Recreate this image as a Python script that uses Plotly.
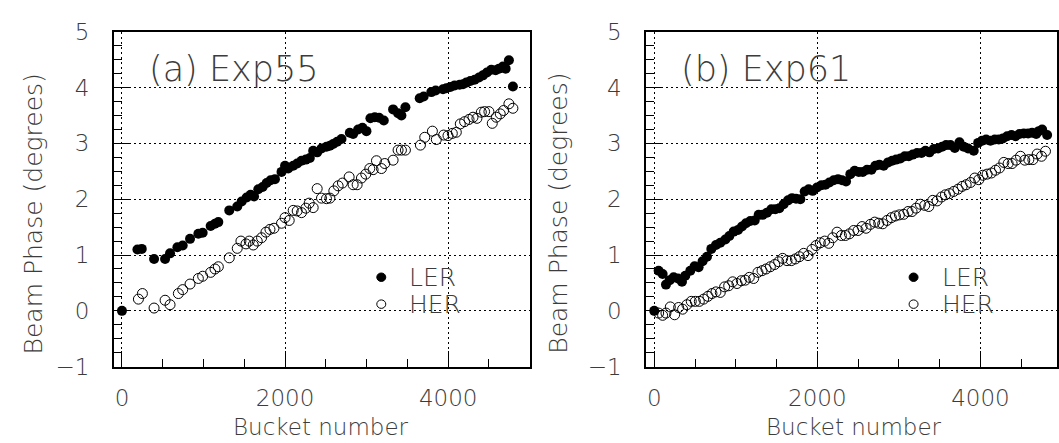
import plotly.graph_objects as go

# ---- Exp55 -------------------------------------------------------------
exp55_ler_bucket = [0, 190, 243, 394, 529, 590, 680, 745, 835, 937, 990, 1088, 1141, 1182,
                    1316, 1414, 1468, 1529, 1578, 1620, 1672, 1725, 1774, 1823, 1876,
                    1957, 2000, 2039, 2100, 2149, 2202, 2255, 2304, 2345, 2394, 2447, 2508,
                    2550, 2590, 2639, 2692, 2794, 2835, 2896, 2949, 2998, 3047, 3100, 3153,
                    3211, 3325, 3386, 3427, 3476, 3651, 3700, 3794, 3847, 3937, 3978, 4027,
                    4080, 4141, 4182, 4223, 4272, 4325, 4378, 4427, 4476, 4529, 4582, 4623,
                    4672, 4705, 4745, 4794]
exp55_ler_phase = [0.00, 1.10, 1.11, 0.93, 0.93, 1.03, 1.14, 1.17, 1.29, 1.38, 1.40, 1.52, 1.56, 1.59,
                   1.80, 1.87, 1.96, 2.03, 2.08, 2.05, 2.18, 2.22, 2.29, 2.34, 2.36,
                   2.49, 2.60, 2.55, 2.60, 2.64, 2.69, 2.71, 2.74, 2.87, 2.84, 2.91, 2.94,
                   2.96, 2.99, 3.03, 3.08, 3.19, 3.17, 3.25, 3.28, 3.22, 3.45, 3.47, 3.46,
                   3.41, 3.61, 3.54, 3.50, 3.65, 3.81, 3.84, 3.92, 3.95, 3.97, 3.99, 4.01,
                   4.04, 4.05, 4.06, 4.09, 4.12, 4.14, 4.18, 4.22, 4.27, 4.32, 4.31, 4.34,
                   4.38, 4.34, 4.49, 4.02]

exp55_her_bucket = [202, 251, 394, 529, 590, 692, 745, 835, 937, 990, 1088, 1141, 1182,
                    1316, 1414, 1459, 1521, 1561, 1610, 1659, 1712, 1766, 1815, 1864,
                    1957, 2000, 2051, 2100, 2149, 2202, 2255, 2296, 2345, 2394, 2447, 2508,
                    2550, 2598, 2651, 2704, 2786, 2835, 2884, 2937, 2990, 3039, 3080, 3121,
                    3182, 3223, 3325, 3386, 3427, 3476, 3660, 3713, 3807, 3855, 3945, 3998,
                    4051, 4100, 4149, 4202, 4256, 4305, 4353, 4407, 4447, 4500, 4541, 4590,
                    4639, 4680, 4745, 4794]
exp55_her_phase = [0.21, 0.31, 0.05, 0.19, 0.11, 0.31, 0.38, 0.48, 0.58, 0.62, 0.69, 0.75, 0.79,
                   0.95, 1.12, 1.25, 1.20, 1.25, 1.18, 1.25, 1.31, 1.41, 1.46, 1.48,
                   1.57, 1.67, 1.62, 1.80, 1.79, 1.76, 1.84, 1.93, 1.85, 2.19, 2.02, 2.01,
                   2.02, 2.15, 2.24, 2.29, 2.40, 2.26, 2.26, 2.38, 2.45, 2.55, 2.53, 2.69,
                   2.55, 2.64, 2.70, 2.88, 2.88, 2.88, 2.97, 3.11, 3.22, 3.07, 3.15, 3.14,
                   3.18, 3.20, 3.35, 3.39, 3.43, 3.47, 3.45, 3.56, 3.57, 3.57, 3.36, 3.47,
                   3.53, 3.59, 3.71, 3.63]

# ---- Exp61 -------------------------------------------------------------
exp61_ler_bucket = [0, 54, 103, 144, 190, 238, 291, 340, 381, 442, 495, 544, 593, 647, 700, 757,
                    810, 872, 921, 974, 1027, 1076, 1125, 1178, 1232, 1281, 1330, 1383, 1436,
                    1485, 1534, 1587, 1641, 1690, 1739, 1792, 1845, 1894, 1943, 1996, 2050,
                    2099, 2148, 2201, 2254, 2303, 2352, 2405, 2458, 2508, 2557, 2610, 2663,
                    2712, 2761, 2814, 2868, 2917, 2966, 3019, 3072, 3121, 3170, 3223, 3277,
                    3326, 3375, 3428, 3481, 3530, 3579, 3632, 3686, 3743, 3796, 3849, 3918,
                    3972, 4021, 4070, 4123, 4176, 4225, 4275, 4328, 4381, 4430, 4479, 4532,
                    4585, 4634, 4684, 4716, 4757, 4818]
exp61_ler_phase = [0.00, 0.72, 0.66, 0.47, 0.55, 0.60, 0.58, 0.52, 0.63, 0.72, 0.80, 0.78, 0.89, 0.97, 1.11, 1.18,
                   1.22, 1.28, 1.34, 1.42, 1.45, 1.51, 1.57, 1.61, 1.62, 1.72, 1.72, 1.76, 1.82,
                   1.82, 1.84, 1.91, 1.98, 2.02, 2.01, 2.00, 2.14, 2.18, 2.15, 2.21, 2.25,
                   2.26, 2.30, 2.34, 2.36, 2.34, 2.32, 2.45, 2.51, 2.49, 2.49, 2.53, 2.53,
                   2.60, 2.62, 2.60, 2.66, 2.69, 2.71, 2.73, 2.77, 2.77, 2.80, 2.83, 2.83,
                   2.87, 2.84, 2.90, 2.91, 2.94, 2.97, 2.97, 2.92, 3.02, 2.94, 2.91, 2.87,
                   3.01, 3.05, 3.07, 3.05, 3.07, 3.07, 3.09, 3.13, 3.15, 3.13, 3.17, 3.18,
                   3.18, 3.19, 3.17, 3.22, 3.25, 3.15]

exp61_her_bucket = [54, 103, 144, 197, 250, 299, 348, 401, 454, 504, 553, 606, 659, 708, 757, 810,
                    863, 913, 962, 1015, 1068, 1117, 1166, 1219, 1272, 1322, 1371, 1424, 1477,
                    1526, 1575, 1628, 1681, 1731, 1780, 1833, 1886, 1935, 1984, 2037, 2090,
                    2140, 2189, 2242, 2295, 2344, 2393, 2446, 2499, 2549, 2598, 2651, 2704,
                    2753, 2802, 2855, 2908, 2958, 3007, 3060, 3113, 3162, 3211, 3264, 3317,
                    3367, 3416, 3469, 3522, 3571, 3620, 3673, 3726, 3776, 3825, 3878, 3931,
                    3980, 4029, 4082, 4135, 4185, 4234, 4287, 4340, 4389, 4438, 4491, 4544,
                    4594, 4643, 4696, 4749, 4798]
exp61_her_phase = [-0.04, -0.08, -0.04, 0.07, -0.07, 0.06, 0.03, 0.11, 0.17, 0.17, 0.17, 0.21, 0.26, 0.31, 0.34, 0.33,
                   0.43, 0.45, 0.52, 0.49, 0.54, 0.55, 0.60, 0.58, 0.69, 0.72, 0.75, 0.79, 0.83,
                   0.88, 0.94, 0.90, 0.90, 0.93, 0.97, 1.03, 0.99, 1.10, 1.17, 1.22, 1.25,
                   1.21, 1.31, 1.41, 1.35, 1.35, 1.38, 1.44, 1.44, 1.51, 1.48, 1.55, 1.59,
                   1.57, 1.56, 1.62, 1.67, 1.70, 1.72, 1.73, 1.78, 1.78, 1.84, 1.91, 1.89,
                   1.87, 1.98, 1.97, 2.04, 2.08, 2.10, 2.14, 2.18, 2.23, 2.26, 2.30, 2.38,
                   2.35, 2.43, 2.45, 2.47, 2.52, 2.56, 2.66, 2.64, 2.64, 2.70, 2.77, 2.70,
                   2.71, 2.71, 2.81, 2.77, 2.86]

panel_labels = ["(a) Exp55", "(b) Exp61"]
series_names = ["LER", "HER"]
x_title = "Bucket number"
y_title = "Beam Phase (degrees)"

W, H = 1059, 443
FONT = "DejaVu Sans"
TXT = "#3c3c3c"
WEIGHT = 200

# panel geometry in pixels
left_px = [114.0, 647.3]
right_px = [530.7, 1059.0]
top_px, bot_px = 20.0, 375.7
px_per_unit = 0.0817
x_ranges = [[-100, 5000], [-100, -100 + (right_px[1] - left_px[1]) / px_per_unit]]
y_title_offset = [80, 88]

fig = go.Figure()

panels = [
    (exp55_ler_bucket, exp55_ler_phase, exp55_her_bucket, exp55_her_phase),
    (exp61_ler_bucket, exp61_ler_phase, exp61_her_bucket, exp61_her_phase),
]

for i, (lx, ly, hx, hy) in enumerate(panels):
    xa = "x" if i == 0 else "x2"
    ya = "y" if i == 0 else "y2"
    fig.add_trace(go.Scatter(
        x=hx, y=hy, mode="markers", xaxis=xa, yaxis=ya, showlegend=False,
        marker=dict(symbol="circle-open", size=10, color="black", line=dict(width=1, color="black")),
        name=series_names[1]))
    fig.add_trace(go.Scatter(
        x=lx, y=ly, mode="markers", xaxis=xa, yaxis=ya, showlegend=False,
        marker=dict(symbol="circle", size=10, color="black"),
        name=series_names[0]))

axis_common = dict(
    showline=True, linecolor="black", linewidth=1.5, mirror=True,
    ticks="inside", tickcolor="black", tickwidth=1,
    showgrid=True, gridcolor="black", gridwidth=1, griddash="2px,3px",
    zeroline=False, tickfont=dict(family=FONT, size=23, color=TXT, weight=WEIGHT),
)

for i in range(2):
    sfx = "" if i == 0 else "2"
    dom_x = [left_px[i] / W, right_px[i] / W]
    dom_y = [1 - bot_px / H, 1 - top_px / H]
    fig.update_layout(**{
        f"xaxis{sfx}": dict(axis_common, domain=dom_x, range=x_ranges[i], anchor=f"y{sfx}",
                            tickmode="array", tickvals=[0, 2000, 4000], ticklen=16,
                            minor=dict(dtick=500, tick0=0, ticklen=8, ticks="inside",
                                       tickcolor="black", showgrid=False),
                            ticklabelstandoff=10),
        f"yaxis{sfx}": dict(axis_common, domain=dom_y, range=[-1, 5], anchor=f"x{sfx}",
                            dtick=1, tick0=0, ticklen=16,
                            minor=dict(dtick=0.25, tick0=0, ticklen=8, ticks="inside",
                                       tickcolor="black", showgrid=False),
                            ticklabelstandoff=18),
    })

annotations = []
shapes = []
for i in range(2):
    x0 = left_px[i]
    # panel label
    annotations.append(dict(
        text=panel_labels[i], xref="paper", yref="paper",
        x=(x0 + 33) / W, y=1 - 59 / H, xanchor="left", yanchor="middle",
        showarrow=False, font=dict(family=FONT, size=35, color=TXT, weight=WEIGHT)))
    # axis titles
    annotations.append(dict(
        text=x_title, xref="paper", yref="paper",
        x=(x0 + 208) / W, y=1 - 440 / H, xanchor="center", yanchor="middle",
        showarrow=False, font=dict(family=FONT, size=23, color=TXT, weight=WEIGHT)))
    annotations.append(dict(
        text=y_title, xref="paper", yref="paper", textangle=-90,
        x=(x0 - y_title_offset[i]) / W, y=1 - 213 / H, xanchor="center", yanchor="middle",
        showarrow=False, font=dict(family=FONT, size=25, color=TXT, weight=WEIGHT)))
    # legend
    mx = x0 + 268
    for k, (name, yy) in enumerate(zip(series_names, [280.7, 309.3])):
        r = 4.5
        shapes.append(dict(
            type="circle", xref="paper", yref="paper",
            x0=(mx - r) / W, x1=(mx + r) / W, y0=1 - (yy + r) / H, y1=1 - (yy - r) / H,
            fillcolor="black" if k == 0 else "white", line=dict(color="black", width=1)))
        annotations.append(dict(
            text=name, xref="paper", yref="paper",
            x=(mx + 26) / W, y=1 - yy / H, xanchor="left", yanchor="middle",
            showarrow=False, font=dict(family=FONT, size=25, color=TXT, weight=WEIGHT)))

fig.update_layout(
    width=W, height=H, margin=dict(l=0, r=0, t=0, b=0),
    paper_bgcolor="white", plot_bgcolor="white",
    annotations=annotations, shapes=shapes, showlegend=False,
)

fig.write_html("out.html")
